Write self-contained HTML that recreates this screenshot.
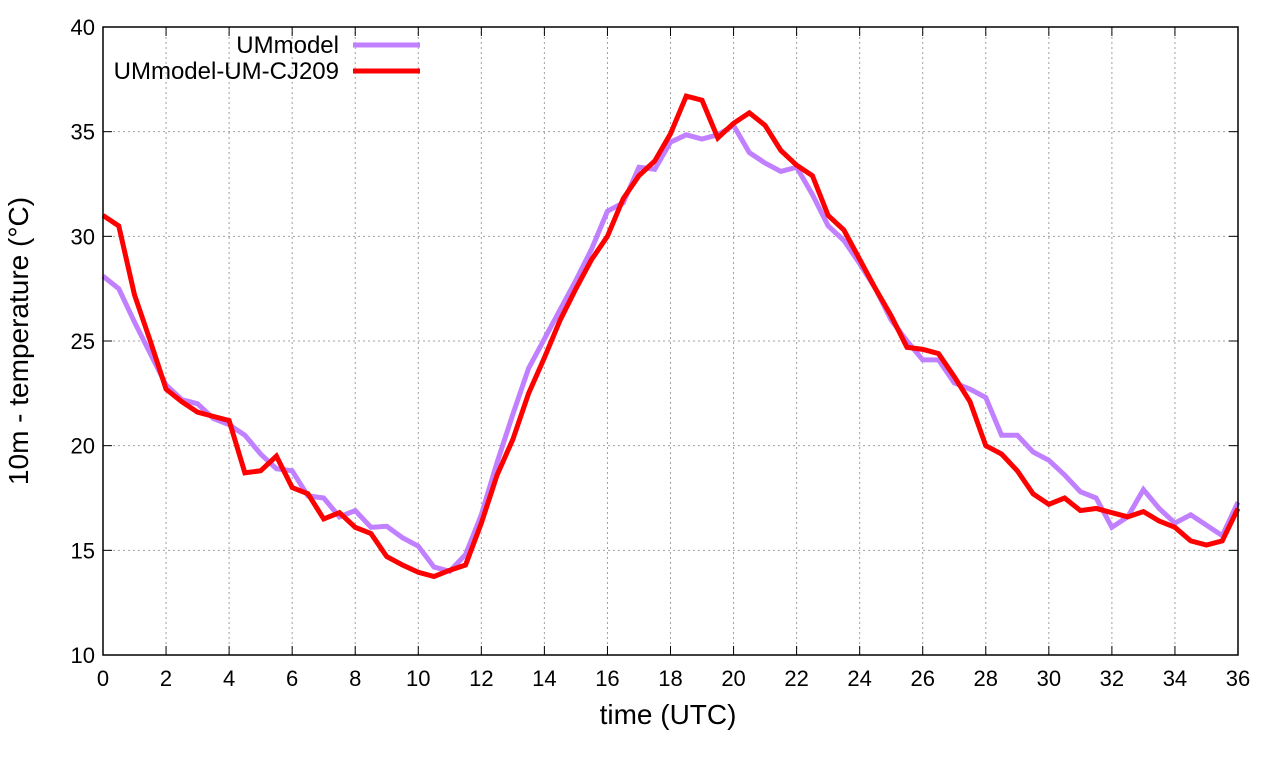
<!DOCTYPE html>
<html><head><meta charset="utf-8"><style>
html,body{margin:0;padding:0;background:#fff;}
svg{display:block;font-family:"Liberation Sans",sans-serif;}
</style></head><body>
<svg id="chart" width="1280" height="760"></svg>
<script>
const hours = [];
for (let i = 0; i <= 72; i++) hours.push(i / 2);
const umModel = [28.1,27.5,25.9,24.4,22.9,22.2,22.0,21.3,21.0,20.5,19.6,18.9,18.8,17.6,17.5,16.6,16.9,16.1,16.15,15.6,15.2,14.2,14.0,14.8,16.7,19.2,21.5,23.7,25.1,26.5,27.9,29.4,31.2,31.6,33.3,33.2,34.5,34.85,34.65,34.85,35.3,34.0,33.5,33.1,33.3,32.0,30.5,29.8,28.7,27.5,26.0,25.0,24.1,24.1,23.0,22.7,22.3,20.5,20.5,19.7,19.3,18.6,17.8,17.5,16.1,16.6,17.9,17.0,16.3,16.7,16.2,15.7,17.3];
const umCj209 = [31.0,30.5,27.2,25.0,22.7,22.1,21.6,21.4,21.2,18.7,18.8,19.5,18.0,17.7,16.5,16.8,16.1,15.8,14.7,14.3,13.95,13.75,14.05,14.3,16.3,18.6,20.3,22.5,24.2,26.0,27.5,28.9,30.0,31.8,32.9,33.6,34.9,36.7,36.5,34.7,35.4,35.9,35.3,34.1,33.4,32.9,31.0,30.3,28.9,27.5,26.2,24.7,24.6,24.4,23.3,22.1,20.0,19.6,18.8,17.7,17.2,17.5,16.9,17.0,16.8,16.6,16.85,16.4,16.1,15.45,15.25,15.45,17.0];
const xTicks = [0,2,4,6,8,10,12,14,16,18,20,22,24,26,28,30,32,34,36];
const yTicks = [10,15,20,25,30,35,40];

const L=103,R=1238,T=27,B=655;
const sx = v => L + (v-0)/(36-0)*(R-L);
const sy = v => B - (v-10)/(40-10)*(B-T);
const NS="http://www.w3.org/2000/svg";
const svg=document.getElementById('chart');
function mk(tag,attrs,parent){const e=document.createElementNS(NS,tag);for(const k in attrs)e.setAttribute(k,attrs[k]);(parent||svg).appendChild(e);return e;}

const grid=mk('g',{});


xTicks.forEach(t=>{ if(t>0&&t<36){const l=mk('line',{x1:sx(t),x2:sx(t),y1:T,y2:B,stroke:'#a0a0a0','stroke-width':1,'stroke-dasharray':'2,3'},grid);

}});
yTicks.forEach(t=>{ if(t>10&&t<40){const l=mk('line',{x1:L,x2:R,y1:sy(t),y2:sy(t),stroke:'#a0a0a0','stroke-width':1,'stroke-dasharray':'2,3'},grid);

}});

const xt=mk('g',{});


xTicks.forEach(t=>{
  mk('line',{x1:sx(t),x2:sx(t),y1:B,y2:B-9,stroke:'#000','stroke-width':1},xt);
  mk('line',{x1:sx(t),x2:sx(t),y1:T,y2:T+9,stroke:'#000','stroke-width':1},xt);
  const tx=mk('text',{x:sx(t),y:B+31,'text-anchor':'middle','font-size':22},xt);tx.textContent=t;
  
  
});
const yt=mk('g',{});


yTicks.forEach(t=>{
  mk('line',{x1:L,x2:L+9,y1:sy(t),y2:sy(t),stroke:'#000','stroke-width':1},yt);
  mk('line',{x1:R,x2:R-9,y1:sy(t),y2:sy(t),stroke:'#000','stroke-width':1},yt);
  const tx=mk('text',{x:L-8,y:sy(t)+8,'text-anchor':'end','font-size':22},yt);tx.textContent=t;
  
  
});

function series(vals,color,name){
  const d=vals.map((v,i)=>(i?'L':'M')+sx(hours[i]).toFixed(2)+','+sy(v).toFixed(2)).join(' ');
  const p=mk('path',{d:d,fill:'none',stroke:color,'stroke-width':5,'stroke-linejoin':'miter'});
  
  
}
series(umModel,'#c080ff','ummodel-line');
series(umCj209,'#ff0000','ummodel-um-cj209-line');

const frame=mk('rect',{x:L,y:T,width:R-L,height:B-T,fill:'none',stroke:'#000','stroke-width':1.5});



const lg=mk('g',{});


[['UMmodel','#c080ff',45],['UMmodel-UM-CJ209','#ff0000',71]].forEach(([n,c,y])=>{
  const t=mk('text',{x:339,y:y+8,'text-anchor':'end','font-size':24},lg);t.textContent=n;
  
  
  const l=mk('line',{x1:353,x2:420,y1:y,y2:y,stroke:c,'stroke-width':5},lg);
  
  
});

const xl=mk('text',{x:668,y:724,'text-anchor':'middle','font-size':28});
xl.textContent='time (UTC)';


const yl=mk('text',{x:0,y:0,'text-anchor':'middle','font-size':28,transform:'translate(28,341) rotate(-90)'});
yl.textContent='10m - temperature (°C)';


</script>
</body></html>
